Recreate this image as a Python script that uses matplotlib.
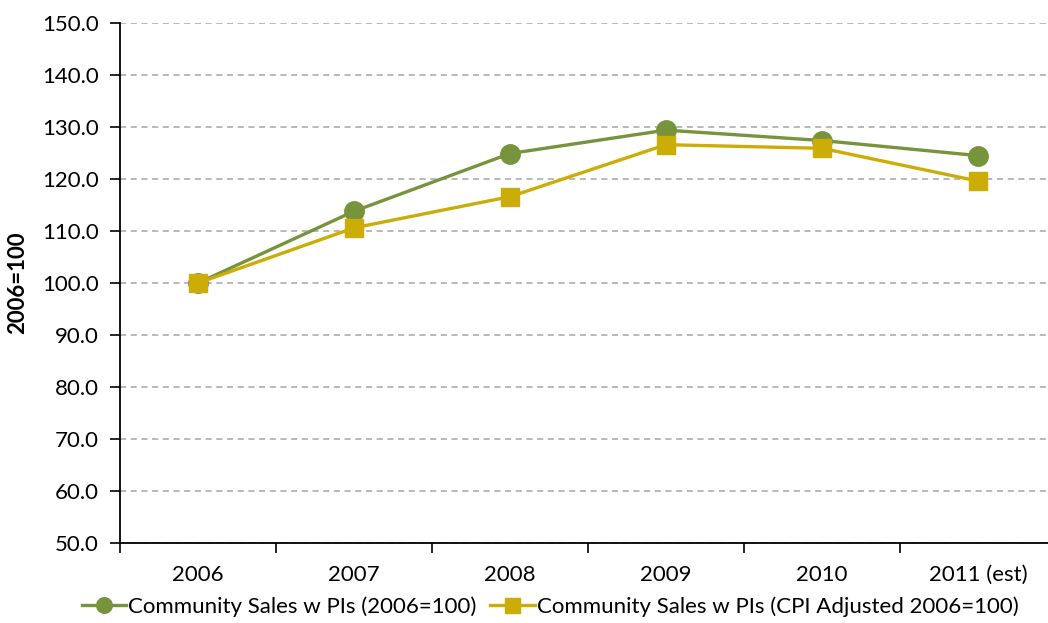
import matplotlib
matplotlib.use("Agg")
import numpy as np
import matplotlib.pyplot as plt

years = ["2006", "2007", "2008", "2009", "2010", "2011 (est)"]
sales = [100.0, 113.8, 124.9, 129.4, 127.4, 124.5]
sales_cpi = [100.0, 110.6, 116.6, 126.6, 125.9, 119.6]
label1 = "Community Sales w PIs (2006=100)"
label2 = "Community Sales w PIs (CPI Adjusted 2006=100)"

plt.rcParams['font.family'] = ['Lato', 'DejaVu Sans']

fig = plt.figure(figsize=(10.48, 6.23), dpi=100)
ax = fig.add_axes([120/1048, 80/623, 936/1048, 520/623])

x = np.arange(len(years))
ax.plot(x, sales, color="#77933C", lw=2.4, marker="o", ms=14, label=label1, zorder=3)
ax.plot(x, sales_cpi, color="#CCAC06", lw=2.4, marker="s", ms=13.5, label=label2, zorder=4)

ax.set_xlim(-0.5, len(years) - 0.5)
ax.set_ylim(50, 150)
ax.set_yticks(np.arange(50, 151, 10))
ax.set_yticklabels([f"{v:.1f}" for v in np.arange(50, 151, 10)], fontsize=16)
ax.set_xticks(x)
ax.set_xticklabels(years, fontsize=16)
ax.set_xticks(np.arange(-0.5, len(years), 1), minor=True)
ax.tick_params(axis="x", which="major", length=0, pad=16)
ax.tick_params(axis="x", which="minor", length=7, width=1.2, direction="out")
ax.tick_params(axis="y", length=7, width=1.2, direction="out", pad=8)

ax.grid(axis="y", color="#A6A6A6", linestyle=(0, (4, 3)), lw=1.1)
ax.set_axisbelow(True)
for s in ["top", "right"]:
    ax.spines[s].set_visible(False)
ax.spines["left"].set_linewidth(1.3)
ax.spines["bottom"].set_linewidth(1.3)

ax.set_ylabel("2006=100", fontsize=16, fontweight="bold", labelpad=10)

fig.legend(loc="center", bbox_to_anchor=(0.525, 0.026), ncol=2, frameon=False,
           fontsize=16, handlelength=2.0, handletextpad=0.1, columnspacing=0.6,
           markerscale=0.8, borderaxespad=0)

fig.savefig("out.png", dpi=100)
